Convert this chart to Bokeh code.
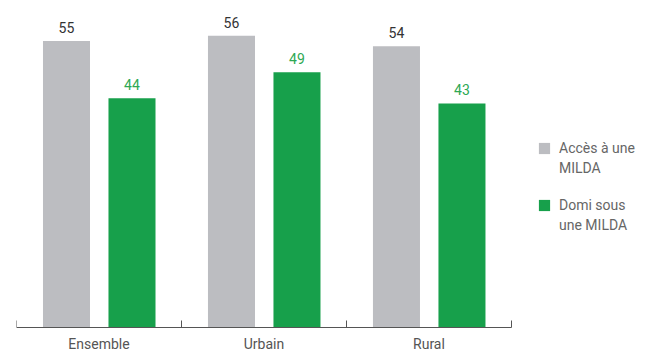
from bokeh.plotting import figure
from bokeh.models import (ColumnDataSource, LinearAxis, FixedTicker, Range1d,
                          Legend, LegendItem)
from bokeh.transform import dodge
from bokeh.core.properties import value
from bokeh.embed import file_html
from bokeh.resources import INLINE

categories = ["Ensemble", "Urbain", "Rural"]
acces = [55, 56, 54]
domi = [44, 49, 43]
series_labels = [["Accès à une", "MILDA"], ["Domi sous", "une MILDA"]]

GRAY = "#BCBDC1"
GREEN = "#17A04B"
FONT = "Roboto"

idx = list(range(len(categories)))
src = ColumnDataSource(dict(
    x=idx, cat=categories, acces=acces, domi=domi,
    acces_txt=[str(v) for v in acces], domi_txt=[str(v) for v in domi],
))

p = figure(width=638, height=353, output_backend="svg", toolbar_location=None,
           x_axis_type=None, y_axis_type=None,
           x_range=Range1d(-0.5, 3.27), y_range=Range1d(-4.99, 62.76),
           min_border_left=16, min_border_right=0, min_border_top=0, min_border_bottom=0)
p.outline_line_color = None
p.grid.visible = False
p.background_fill_color = "white"

r1 = p.vbar(x=dodge("x", -0.197, range=p.x_range), top="acces", bottom=0, width=0.285,
            source=src, fill_color=GRAY, line_color=None)
r2 = p.vbar(x=dodge("x", 0.2, range=p.x_range), top="domi", bottom=0, width=0.285,
            source=src, fill_color=GREEN, line_color=None)
blank = p.vbar(x=[], top=[], width=0.285, fill_alpha=0, line_alpha=0)

p.text(x=dodge("x", -0.197, range=p.x_range), y="acces", text="acces_txt", source=src,
       text_align="center", text_baseline="bottom", y_offset=-8,
       text_font=value(FONT), text_font_size="14px", text_color="#333333")
p.text(x=dodge("x", 0.2, range=p.x_range), y="domi", text="domi_txt", source=src,
       text_align="center", text_baseline="bottom", y_offset=-8,
       text_font=value(FONT), text_font_size="14px", text_color="#2EA853")

bounds = [i - 0.5 for i in idx] + [idx[-1] + 0.5]
ax = LinearAxis(fixed_location=0, bounds=(-0.5, len(categories) - 0.5),
                ticker=FixedTicker(ticks=idx, minor_ticks=bounds),
                major_label_overrides={i: c for i, c in zip(idx, categories)},
                major_tick_in=0, major_tick_out=0,
                minor_tick_in=7, minor_tick_out=0,
                axis_line_color="#555555", minor_tick_line_color="#555555",
                major_label_standoff=8,
                major_label_text_font=FONT, major_label_text_font_size="14px",
                major_label_text_color="#555555")
p.add_layout(ax, "below")


def make_legend(lines, renderer, loc):
    items = [LegendItem(label=lines[0], renderers=[renderer]),
             LegendItem(label=lines[1], renderers=[blank])]
    return Legend(items=items, location=loc, padding=0, margin=0, spacing=0,
                  glyph_width=14, glyph_height=14, label_standoff=8, label_height=20,
                  label_text_font=FONT, label_text_font_size="14px",
                  label_text_color="#666666",
                  border_line_color=None, background_fill_alpha=0)


p.add_layout(make_legend(series_labels[0], r1, (521, 175)))
p.add_layout(make_legend(series_labels[1], r2, (521, 118)))

open("out.html", "w").write(file_html(p, INLINE))
